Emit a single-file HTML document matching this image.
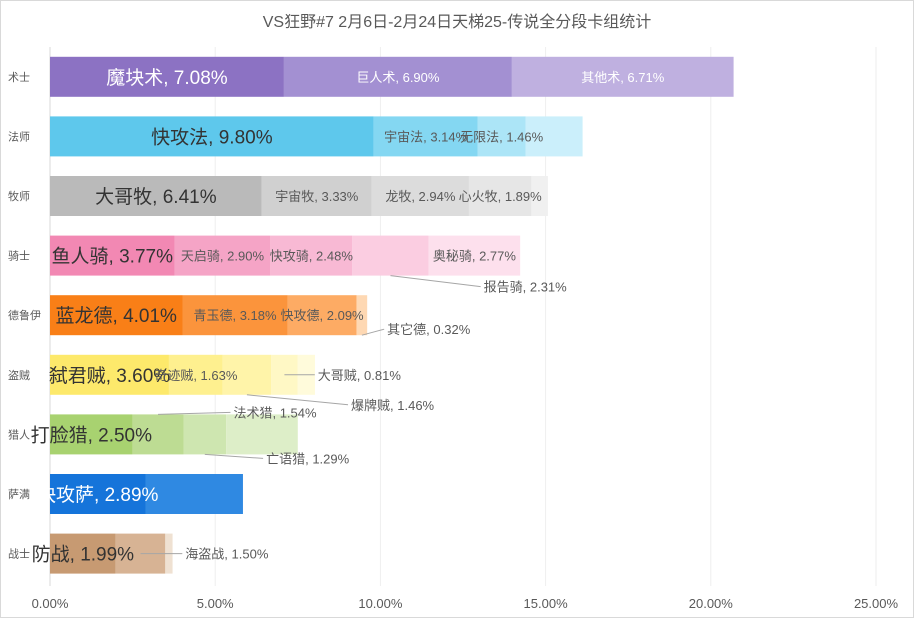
<!DOCTYPE html>
<html><head><meta charset="utf-8"><style>
body{margin:0;background:#fff;}
svg{display:block;font-family:"Liberation Sans","Noto Sans CJK SC",sans-serif;}
</style></head><body>
<svg id="chart" width="914" height="618" viewBox="0 0 914 618" xmlns="http://www.w3.org/2000/svg">
<rect x="0.5" y="0.5" width="913" height="617" fill="#fff" stroke="#d9d9d9"/>
<text x="457" y="27" text-anchor="middle" font-size="16" fill="#595959">VS狂野#7   2月6日-2月24日天梯25-传说全分段卡组统计</text>
<g id="grid"></g><g id="bars"></g><g id="labels"></g><g id="axis"></g>
</svg>
<script>
const classes=["术士","法师","牧师","骑士","德鲁伊","盗贼","猎人","萨满","战士"];
const values=[
 [7.08,6.90,6.71],
 [9.80,3.14,1.46,1.72],
 [6.41,3.33,2.94,1.89,0.50],
 [3.77,2.90,2.48,2.31,2.77],
 [4.01,3.18,2.09,0.32],
 [3.60,1.63,1.46,0.81,0.52],
 [2.50,1.54,1.29,2.17],
 [2.89,2.95],
 [1.99,1.50,0.22]
];
const names=[
 ["魔块术","巨人术","其他术"],
 ["快攻法","宇宙法","无限法",""],
 ["大哥牧","宇宙牧","龙牧","心火牧",""],
 ["鱼人骑","天启骑","快攻骑","报告骑","奥秘骑"],
 ["蓝龙德","青玉德","快攻德","其它德"],
 ["弑君贼","奇迹贼","爆牌贼","大哥贼",""],
 ["打脸猎","法术猎","亡语猎",""],
 ["快攻萨",""],
 ["防战","海盗战",""]
];
const ticks=[0,5,10,15,20,25];
const colors=[
 ["#8c72c3","#a390d2","#bfb0e0"],
 ["#5ec8ec","#84d7f2","#ace5f7","#cbeffb"],
 ["#bababa","#d0d0d0","#dcdcdc","#e6e6e6","#f0f0f0"],
 ["#f288b3","#f5a4c6","#f8b9d4","#fbcde1","#fde0ed"],
 ["#f97f17","#fb943c","#fdab64","#fed8b3"],
 ["#fde96b","#fef08f","#fff4a9","#fff8c5","#fffbdb"],
 ["#a8d270","#bddc93","#cee6b0","#ddeec8"],
 ["#1574da","#2f89e2"],
 ["#c79a72","#d7b394","#efe1d2"]
];
// label placement: 'in' = inside segment; otherwise [dx,dy] offset from segment end
const place={
 "3-3":[55,31],"4-3":[20,14],"5-3":[20,0],"5-2":[80,30],"6-1":[50,-22],"6-2":[40,24],"8-1":[20,0]
};
const svg=document.getElementById('chart');
const NS="http://www.w3.org/2000/svg";
const x0=50,x1=876,top0=47,band=59.6,bh=40;
const xs=v=>x0+(v/25)*(x1-x0);
const yc=i=>top0+band*i+band/2;
function mk(t,a,p){const e=document.createElementNS(NS,t);for(const k in a)e.setAttribute(k,a[k]);p.appendChild(e);return e;}
const grid=document.getElementById('grid'),axis=document.getElementById('axis'),bars=document.getElementById('bars'),labels=document.getElementById('labels');
ticks.forEach(t=>{
 const l=mk('line',{x1:xs(t),x2:xs(t),y1:top0,y2:586,stroke:t===0?'#d9d9d9':'#eeeeee','stroke-width':1},grid);
 
 
 const tx=mk('text',{x:xs(t),y:608,'text-anchor':'middle','font-size':13,fill:'#595959'},axis);
 tx.textContent=t.toFixed(2)+'%';
 
 
});
classes.forEach((c,i)=>{
 const cl=mk('text',{x:8,y:yc(i)+4,'font-size':11,fill:'#595959'},axis);
 cl.textContent=c;
 
 
 let acc=0;
 values[i].forEach((v,j)=>{
  const a=xs(acc),b=xs(acc+v);acc+=v;
  const r=mk('rect',{x:a,y:yc(i)-bh/2,width:b-a,height:bh,fill:colors[i][j]},bars);
  
  
  const n=names[i][j];if(!n)return;
  const key=i+'-'+j;
  if(j===0){
   const t=mk('text',{x:(a+b)/2,y:yc(i)+7,'text-anchor':'middle','font-size':19,fill:(i===0||i===7)?'#fff':'#333'},labels);
   t.textContent=n+', '+v.toFixed(2)+'%';
   
   
  } else if(place[key]){
   const [dx,dy]=place[key];
   const lx=b+dx,ly=yc(i)+dy;
   const ln=mk('polyline',{points:((a+b)/2)+','+(yc(i)+(dy>0?bh/2:(dy<0?-bh/2:0)))+' '+(lx-3)+','+ly,fill:'none',stroke:'#a6a6a6','stroke-width':1},labels);
   
   
   const t=mk('text',{x:lx,y:ly+5,'font-size':13,fill:'#595959'},labels);
   t.textContent=n+', '+v.toFixed(2)+'%';
   
   
  } else {
   const t=mk('text',{x:(a+b)/2,y:yc(i)+5,'text-anchor':'middle','font-size':13,fill:i===0?'#fff':'#595959'},labels);
   t.textContent=n+', '+v.toFixed(2)+'%';
   
   
  }
 });
});
</script>
</body></html>
